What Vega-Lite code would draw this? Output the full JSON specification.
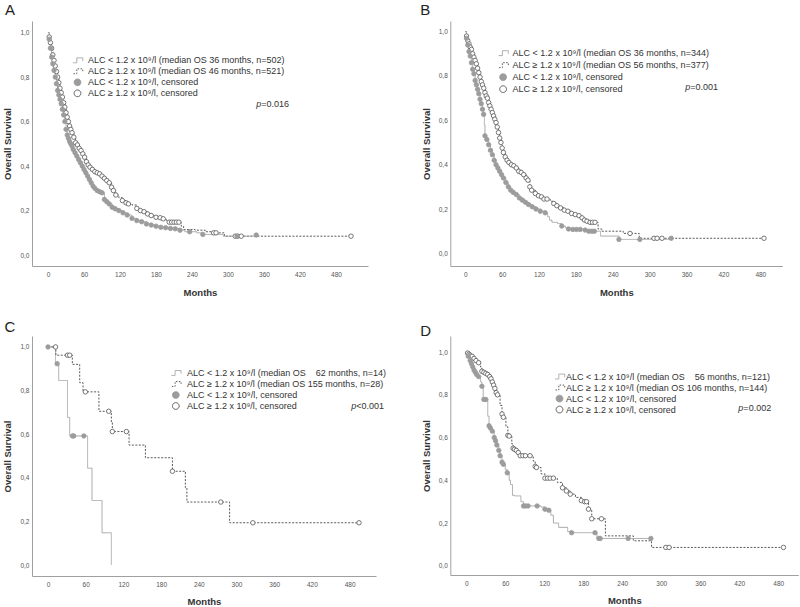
{
"$schema": "https://vega.github.io/schema/vega-lite/v6.json",
"padding": {"left": 2, "top": 3, "right": 2, "bottom": 0},
"background": "white",
"config": {
  "font": "Liberation Sans",
  "view": {"stroke": null},
  "axis": {"domainColor": "#a0a0a0", "domainWidth": 1, "ticks": false, "grid": false, "labelFontSize": 6.5, "labelColor": "#555555", "titleFontSize": 9.5, "titleFontWeight": "bold", "titleColor": "#333333"},
  "axisX": {"labelPadding": 5, "titlePadding": 10},
  "axisY": {"labelPadding": 3, "titlePadding": 7},
  "title": {"anchor": "start", "frame": "group", "fontSize": 15, "fontWeight": "normal", "color": "#222222", "baseline": "alphabetic"},
  "legend": {"orient": "none", "title": null, "padding": 0, "labelFontSize": 9, "labelColor": "#333333", "labelLimit": 0, "symbolSize": 196, "clipHeight": 11, "rowPadding": 0, "labelOffset": 6, "symbolStrokeWidth": 1}
},
"bounds": "flush",
"columns": 2,
"spacing": {"row": 70, "column": 74.3},
"resolve": {"scale": {"x": "independent", "y": "independent", "color": "independent", "strokeDash": "independent", "fill": "independent", "stroke": "independent"}, "legend": {"color": "independent"}},
"datasets": {
"A": [
{"g":2,"t":0,"s":1.0,"c":0},{"g":2,"t":2,"s":0.98,"c":1},{"g":2,"t":4,"s":0.955,"c":1},{"g":2,"t":6,"s":0.93,"c":1},{"g":2,"t":8,"s":0.9,"c":1},{"g":2,"t":10,"s":0.875,"c":1},{"g":2,"t":12,"s":0.85,"c":1},{"g":2,"t":14,"s":0.825,"c":1},{"g":2,"t":16,"s":0.8,"c":1},{"g":2,"t":18,"s":0.775,"c":1},{"g":2,"t":20,"s":0.75,"c":1},{"g":2,"t":22,"s":0.73,"c":1},{"g":2,"t":24,"s":0.71,"c":1},{"g":2,"t":26,"s":0.685,"c":1},{"g":2,"t":28,"s":0.665,"c":1},{"g":2,"t":30,"s":0.64,"c":1},{"g":2,"t":32,"s":0.62,"c":1},{"g":2,"t":34,"s":0.6,"c":1},{"g":2,"t":36,"s":0.58,"c":1},{"g":2,"t":38,"s":0.565,"c":1},{"g":2,"t":40,"s":0.55,"c":1},{"g":2,"t":43,"s":0.53,"c":1},{"g":2,"t":46,"s":0.505,"c":1},{"g":2,"t":49,"s":0.495,"c":1},{"g":2,"t":52,"s":0.48,"c":1},{"g":2,"t":55,"s":0.47,"c":1},{"g":2,"t":58,"s":0.455,"c":1},{"g":2,"t":61,"s":0.44,"c":1},{"g":2,"t":64,"s":0.42,"c":1},{"g":2,"t":67,"s":0.405,"c":1},{"g":2,"t":70,"s":0.395,"c":1},{"g":2,"t":74,"s":0.385,"c":1},{"g":2,"t":78,"s":0.375,"c":1},{"g":2,"t":82,"s":0.37,"c":1},{"g":2,"t":86,"s":0.365,"c":1},{"g":2,"t":90,"s":0.355,"c":1},{"g":2,"t":94,"s":0.345,"c":1},{"g":2,"t":98,"s":0.335,"c":1},{"g":2,"t":102,"s":0.325,"c":1},{"g":2,"t":106,"s":0.305,"c":1},{"g":2,"t":109,"s":0.29,"c":1},{"g":2,"t":113,"s":0.27,"c":1},{"g":2,"t":118,"s":0.258,"c":0},{"g":2,"t":124,"s":0.245,"c":1},{"g":2,"t":130,"s":0.235,"c":1},{"g":2,"t":134,"s":0.23,"c":1},{"g":2,"t":140,"s":0.225,"c":0},{"g":2,"t":148,"s":0.21,"c":1},{"g":2,"t":154,"s":0.2,"c":1},{"g":2,"t":160,"s":0.195,"c":1},{"g":2,"t":166,"s":0.185,"c":1},{"g":2,"t":172,"s":0.178,"c":1},{"g":2,"t":180,"s":0.17,"c":1},{"g":2,"t":187,"s":0.168,"c":1},{"g":2,"t":192,"s":0.163,"c":1},{"g":2,"t":197,"s":0.155,"c":0},{"g":2,"t":202,"s":0.148,"c":1},{"g":2,"t":206,"s":0.148,"c":1},{"g":2,"t":210,"s":0.148,"c":1},{"g":2,"t":214,"s":0.148,"c":1},{"g":2,"t":218,"s":0.148,"c":1},{"g":2,"t":222,"s":0.13,"c":0},{"g":2,"t":226,"s":0.115,"c":0},{"g":2,"t":245,"s":0.112,"c":0},{"g":2,"t":262,"s":0.105,"c":0},{"g":2,"t":276,"s":0.1,"c":1},{"g":2,"t":280,"s":0.1,"c":1},{"g":2,"t":294,"s":0.085,"c":0},{"g":2,"t":312,"s":0.085,"c":1},{"g":2,"t":316,"s":0.085,"c":1},{"g":2,"t":322,"s":0.085,"c":1},{"g":2,"t":505,"s":0.085,"c":1},
{"g":1,"t":0,"s":1.0,"c":0},{"g":1,"t":2,"s":0.97,"c":1},{"g":1,"t":4,"s":0.93,"c":1},{"g":1,"t":6,"s":0.89,"c":1},{"g":1,"t":8,"s":0.86,"c":1},{"g":1,"t":10,"s":0.83,"c":1},{"g":1,"t":12,"s":0.8,"c":1},{"g":1,"t":14,"s":0.77,"c":1},{"g":1,"t":16,"s":0.74,"c":1},{"g":1,"t":18,"s":0.72,"c":1},{"g":1,"t":20,"s":0.7,"c":1},{"g":1,"t":22,"s":0.68,"c":1},{"g":1,"t":24,"s":0.655,"c":1},{"g":1,"t":26,"s":0.63,"c":1},{"g":1,"t":28,"s":0.6,"c":1},{"g":1,"t":30,"s":0.565,"c":1},{"g":1,"t":32,"s":0.54,"c":1},{"g":1,"t":34,"s":0.525,"c":1},{"g":1,"t":36,"s":0.51,"c":1},{"g":1,"t":38,"s":0.5,"c":1},{"g":1,"t":40,"s":0.49,"c":1},{"g":1,"t":42,"s":0.475,"c":1},{"g":1,"t":45,"s":0.46,"c":1},{"g":1,"t":48,"s":0.445,"c":1},{"g":1,"t":51,"s":0.43,"c":1},{"g":1,"t":54,"s":0.415,"c":1},{"g":1,"t":57,"s":0.4,"c":1},{"g":1,"t":60,"s":0.385,"c":1},{"g":1,"t":63,"s":0.37,"c":1},{"g":1,"t":66,"s":0.355,"c":1},{"g":1,"t":69,"s":0.34,"c":1},{"g":1,"t":72,"s":0.325,"c":1},{"g":1,"t":75,"s":0.31,"c":1},{"g":1,"t":78,"s":0.3,"c":1},{"g":1,"t":82,"s":0.29,"c":1},{"g":1,"t":86,"s":0.285,"c":1},{"g":1,"t":90,"s":0.28,"c":1},{"g":1,"t":94,"s":0.25,"c":1},{"g":1,"t":98,"s":0.24,"c":1},{"g":1,"t":102,"s":0.23,"c":1},{"g":1,"t":107,"s":0.215,"c":1},{"g":1,"t":112,"s":0.208,"c":1},{"g":1,"t":118,"s":0.2,"c":1},{"g":1,"t":125,"s":0.19,"c":1},{"g":1,"t":132,"s":0.18,"c":1},{"g":1,"t":140,"s":0.165,"c":1},{"g":1,"t":148,"s":0.155,"c":1},{"g":1,"t":156,"s":0.15,"c":1},{"g":1,"t":164,"s":0.14,"c":1},{"g":1,"t":172,"s":0.135,"c":1},{"g":1,"t":180,"s":0.13,"c":1},{"g":1,"t":188,"s":0.125,"c":1},{"g":1,"t":196,"s":0.123,"c":1},{"g":1,"t":204,"s":0.12,"c":1},{"g":1,"t":212,"s":0.118,"c":1},{"g":1,"t":220,"s":0.112,"c":1},{"g":1,"t":228,"s":0.105,"c":0},{"g":1,"t":236,"s":0.105,"c":1},{"g":1,"t":248,"s":0.1,"c":0},{"g":1,"t":258,"s":0.093,"c":1},{"g":1,"t":292,"s":0.085,"c":0},{"g":1,"t":315,"s":0.085,"c":1},{"g":1,"t":347,"s":0.09,"c":1}
],
"B": [
{"g":2,"t":0,"s":1.0,"c":0},{"g":2,"t":2,"s":0.98,"c":1},{"g":2,"t":4,"s":0.96,"c":1},{"g":2,"t":6,"s":0.945,"c":1},{"g":2,"t":8,"s":0.93,"c":1},{"g":2,"t":10,"s":0.92,"c":1},{"g":2,"t":12,"s":0.9,"c":1},{"g":2,"t":14,"s":0.885,"c":1},{"g":2,"t":16,"s":0.87,"c":1},{"g":2,"t":18,"s":0.855,"c":1},{"g":2,"t":20,"s":0.835,"c":1},{"g":2,"t":22,"s":0.815,"c":1},{"g":2,"t":24,"s":0.795,"c":1},{"g":2,"t":26,"s":0.775,"c":1},{"g":2,"t":28,"s":0.76,"c":1},{"g":2,"t":30,"s":0.745,"c":1},{"g":2,"t":32,"s":0.725,"c":1},{"g":2,"t":34,"s":0.71,"c":1},{"g":2,"t":36,"s":0.7,"c":1},{"g":2,"t":38,"s":0.68,"c":1},{"g":2,"t":40,"s":0.665,"c":1},{"g":2,"t":42,"s":0.65,"c":1},{"g":2,"t":44,"s":0.635,"c":1},{"g":2,"t":46,"s":0.62,"c":1},{"g":2,"t":48,"s":0.605,"c":1},{"g":2,"t":50,"s":0.59,"c":1},{"g":2,"t":52,"s":0.57,"c":1},{"g":2,"t":54,"s":0.545,"c":1},{"g":2,"t":56,"s":0.52,"c":1},{"g":2,"t":58,"s":0.5,"c":1},{"g":2,"t":60,"s":0.475,"c":1},{"g":2,"t":62,"s":0.455,"c":1},{"g":2,"t":65,"s":0.435,"c":1},{"g":2,"t":68,"s":0.42,"c":1},{"g":2,"t":71,"s":0.41,"c":1},{"g":2,"t":75,"s":0.4,"c":1},{"g":2,"t":79,"s":0.395,"c":1},{"g":2,"t":83,"s":0.385,"c":1},{"g":2,"t":87,"s":0.37,"c":1},{"g":2,"t":91,"s":0.365,"c":1},{"g":2,"t":95,"s":0.355,"c":1},{"g":2,"t":99,"s":0.34,"c":1},{"g":2,"t":102,"s":0.33,"c":1},{"g":2,"t":105,"s":0.3,"c":1},{"g":2,"t":108,"s":0.285,"c":1},{"g":2,"t":114,"s":0.27,"c":1},{"g":2,"t":119,"s":0.26,"c":1},{"g":2,"t":124,"s":0.255,"c":1},{"g":2,"t":128,"s":0.245,"c":1},{"g":2,"t":133,"s":0.245,"c":1},{"g":2,"t":138,"s":0.235,"c":0},{"g":2,"t":144,"s":0.225,"c":1},{"g":2,"t":149,"s":0.215,"c":1},{"g":2,"t":155,"s":0.205,"c":1},{"g":2,"t":161,"s":0.195,"c":1},{"g":2,"t":167,"s":0.19,"c":1},{"g":2,"t":173,"s":0.18,"c":1},{"g":2,"t":179,"s":0.175,"c":1},{"g":2,"t":185,"s":0.17,"c":1},{"g":2,"t":190,"s":0.16,"c":1},{"g":2,"t":194,"s":0.15,"c":1},{"g":2,"t":198,"s":0.145,"c":1},{"g":2,"t":203,"s":0.14,"c":1},{"g":2,"t":207,"s":0.14,"c":1},{"g":2,"t":211,"s":0.14,"c":1},{"g":2,"t":216,"s":0.11,"c":0},{"g":2,"t":222,"s":0.1,"c":0},{"g":2,"t":257,"s":0.09,"c":0},{"g":2,"t":268,"s":0.09,"c":1},{"g":2,"t":283,"s":0.068,"c":0},{"g":2,"t":307,"s":0.068,"c":1},{"g":2,"t":312,"s":0.068,"c":1},{"g":2,"t":320,"s":0.068,"c":1},{"g":2,"t":486,"s":0.068,"c":1},
{"g":1,"t":0,"s":1.0,"c":0},{"g":1,"t":2,"s":0.97,"c":1},{"g":1,"t":4,"s":0.94,"c":1},{"g":1,"t":6,"s":0.91,"c":1},{"g":1,"t":8,"s":0.89,"c":1},{"g":1,"t":10,"s":0.86,"c":1},{"g":1,"t":12,"s":0.83,"c":1},{"g":1,"t":14,"s":0.81,"c":1},{"g":1,"t":16,"s":0.78,"c":1},{"g":1,"t":18,"s":0.76,"c":1},{"g":1,"t":20,"s":0.74,"c":1},{"g":1,"t":22,"s":0.72,"c":1},{"g":1,"t":24,"s":0.695,"c":1},{"g":1,"t":26,"s":0.675,"c":1},{"g":1,"t":28,"s":0.65,"c":1},{"g":1,"t":29.8,"s":0.627,"c":1},{"g":1,"t":31,"s":0.58,"c":0},{"g":1,"t":32,"s":0.53,"c":1},{"g":1,"t":35,"s":0.514,"c":1},{"g":1,"t":38,"s":0.49,"c":1},{"g":1,"t":41,"s":0.465,"c":1},{"g":1,"t":44,"s":0.445,"c":1},{"g":1,"t":47,"s":0.42,"c":1},{"g":1,"t":50,"s":0.4,"c":1},{"g":1,"t":53,"s":0.385,"c":1},{"g":1,"t":56,"s":0.37,"c":1},{"g":1,"t":59,"s":0.355,"c":1},{"g":1,"t":62,"s":0.34,"c":1},{"g":1,"t":66,"s":0.32,"c":1},{"g":1,"t":70,"s":0.3,"c":1},{"g":1,"t":74,"s":0.285,"c":1},{"g":1,"t":78,"s":0.275,"c":1},{"g":1,"t":83,"s":0.265,"c":1},{"g":1,"t":88,"s":0.25,"c":1},{"g":1,"t":93,"s":0.24,"c":1},{"g":1,"t":98,"s":0.23,"c":1},{"g":1,"t":103,"s":0.22,"c":1},{"g":1,"t":109,"s":0.21,"c":1},{"g":1,"t":115,"s":0.2,"c":1},{"g":1,"t":122,"s":0.19,"c":1},{"g":1,"t":130,"s":0.183,"c":1},{"g":1,"t":134,"s":0.165,"c":0},{"g":1,"t":137,"s":0.15,"c":0},{"g":1,"t":141,"s":0.14,"c":0},{"g":1,"t":150,"s":0.135,"c":0},{"g":1,"t":157,"s":0.123,"c":1},{"g":1,"t":163,"s":0.115,"c":0},{"g":1,"t":168,"s":0.11,"c":1},{"g":1,"t":175,"s":0.108,"c":1},{"g":1,"t":181,"s":0.108,"c":1},{"g":1,"t":187,"s":0.108,"c":1},{"g":1,"t":195,"s":0.105,"c":1},{"g":1,"t":201,"s":0.1,"c":1},{"g":1,"t":206,"s":0.1,"c":1},{"g":1,"t":210,"s":0.1,"c":1},{"g":1,"t":220,"s":0.078,"c":0},{"g":1,"t":250,"s":0.063,"c":1},{"g":1,"t":284,"s":0.063,"c":1},{"g":1,"t":335,"s":0.068,"c":1}
],
"C": [
{"g":1,"t":0,"s":1.0,"c":1},{"g":1,"t":12,"s":0.923,"c":0},{"g":1,"t":14.5,"s":0.923,"c":1},{"g":1,"t":17,"s":0.846,"c":0},{"g":1,"t":31,"s":0.677,"c":0},{"g":1,"t":34.5,"s":0.592,"c":0},{"g":1,"t":39,"s":0.592,"c":1},{"g":1,"t":41,"s":0.592,"c":1},{"g":1,"t":57,"s":0.592,"c":1},{"g":1,"t":63,"s":0.444,"c":0},{"g":1,"t":70,"s":0.296,"c":0},{"g":1,"t":86,"s":0.148,"c":0},{"g":1,"t":100.8,"s":0.0,"c":0},
{"g":2,"t":0,"s":1.0,"c":0},{"g":2,"t":12,"s":1.0,"c":1},{"g":2,"t":12.5,"s":0.962,"c":0},{"g":2,"t":31,"s":0.962,"c":1},{"g":2,"t":34.5,"s":0.962,"c":1},{"g":2,"t":38.7,"s":0.92,"c":0},{"g":2,"t":50.4,"s":0.836,"c":0},{"g":2,"t":55.7,"s":0.794,"c":0},{"g":2,"t":59.4,"s":0.794,"c":1},{"g":2,"t":81,"s":0.705,"c":0},{"g":2,"t":96.6,"s":0.705,"c":1},{"g":2,"t":100.8,"s":0.656,"c":0},{"g":2,"t":102.4,"s":0.612,"c":1},{"g":2,"t":124.7,"s":0.612,"c":1},{"g":2,"t":129,"s":0.55,"c":0},{"g":2,"t":155,"s":0.492,"c":0},{"g":2,"t":198,"s":0.43,"c":1},{"g":2,"t":218.6,"s":0.355,"c":0},{"g":2,"t":221,"s":0.289,"c":0},{"g":2,"t":275,"s":0.289,"c":1},{"g":2,"t":289,"s":0.194,"c":0},{"g":2,"t":326,"s":0.194,"c":1},{"g":2,"t":495,"s":0.194,"c":1}
],
"D": [
{"g":2,"t":0,"s":1.0,"c":0},{"g":2,"t":2,"s":0.995,"c":1},{"g":2,"t":4,"s":0.99,"c":1},{"g":2,"t":6,"s":0.985,"c":1},{"g":2,"t":9,"s":0.98,"c":1},{"g":2,"t":12,"s":0.97,"c":1},{"g":2,"t":15,"s":0.96,"c":1},{"g":2,"t":19,"s":0.95,"c":1},{"g":2,"t":22,"s":0.93,"c":0},{"g":2,"t":24,"s":0.91,"c":1},{"g":2,"t":27,"s":0.905,"c":1},{"g":2,"t":30,"s":0.9,"c":1},{"g":2,"t":33,"s":0.895,"c":1},{"g":2,"t":36,"s":0.885,"c":1},{"g":2,"t":38,"s":0.875,"c":1},{"g":2,"t":40,"s":0.86,"c":1},{"g":2,"t":42,"s":0.845,"c":1},{"g":2,"t":44,"s":0.83,"c":1},{"g":2,"t":46,"s":0.81,"c":1},{"g":2,"t":48,"s":0.8,"c":1},{"g":2,"t":52,"s":0.75,"c":0},{"g":2,"t":55,"s":0.71,"c":1},{"g":2,"t":57,"s":0.695,"c":1},{"g":2,"t":61,"s":0.65,"c":0},{"g":2,"t":64,"s":0.61,"c":1},{"g":2,"t":66,"s":0.607,"c":1},{"g":2,"t":70,"s":0.57,"c":0},{"g":2,"t":72,"s":0.55,"c":1},{"g":2,"t":74,"s":0.545,"c":1},{"g":2,"t":77,"s":0.54,"c":1},{"g":2,"t":80,"s":0.53,"c":1},{"g":2,"t":83,"s":0.515,"c":1},{"g":2,"t":87,"s":0.515,"c":1},{"g":2,"t":91,"s":0.515,"c":1},{"g":2,"t":98,"s":0.515,"c":1},{"g":2,"t":103,"s":0.49,"c":0},{"g":2,"t":106,"s":0.465,"c":1},{"g":2,"t":108,"s":0.46,"c":1},{"g":2,"t":115,"s":0.43,"c":0},{"g":2,"t":121,"s":0.41,"c":1},{"g":2,"t":125,"s":0.41,"c":1},{"g":2,"t":129,"s":0.41,"c":1},{"g":2,"t":134,"s":0.41,"c":1},{"g":2,"t":140,"s":0.39,"c":0},{"g":2,"t":148,"s":0.365,"c":1},{"g":2,"t":154,"s":0.35,"c":1},{"g":2,"t":160,"s":0.335,"c":1},{"g":2,"t":168,"s":0.32,"c":0},{"g":2,"t":177,"s":0.305,"c":1},{"g":2,"t":182,"s":0.3,"c":1},{"g":2,"t":185,"s":0.3,"c":1},{"g":2,"t":188,"s":0.265,"c":1},{"g":2,"t":193,"s":0.22,"c":1},{"g":2,"t":208,"s":0.22,"c":1},{"g":2,"t":214,"s":0.14,"c":0},{"g":2,"t":257,"s":0.117,"c":0},{"g":2,"t":285,"s":0.086,"c":0},{"g":2,"t":307,"s":0.086,"c":1},{"g":2,"t":312,"s":0.086,"c":1},{"g":2,"t":488,"s":0.086,"c":1},
{"g":1,"t":0,"s":1.0,"c":0},{"g":1,"t":3,"s":0.98,"c":1},{"g":1,"t":6,"s":0.96,"c":1},{"g":1,"t":8,"s":0.945,"c":1},{"g":1,"t":10,"s":0.93,"c":1},{"g":1,"t":12,"s":0.915,"c":1},{"g":1,"t":14,"s":0.905,"c":1},{"g":1,"t":16,"s":0.895,"c":1},{"g":1,"t":19,"s":0.885,"c":1},{"g":1,"t":22,"s":0.86,"c":0},{"g":1,"t":24,"s":0.84,"c":1},{"g":1,"t":26,"s":0.78,"c":0},{"g":1,"t":27,"s":0.778,"c":1},{"g":1,"t":30,"s":0.778,"c":1},{"g":1,"t":33,"s":0.7,"c":0},{"g":1,"t":35,"s":0.655,"c":1},{"g":1,"t":37,"s":0.645,"c":1},{"g":1,"t":40,"s":0.63,"c":1},{"g":1,"t":43,"s":0.6,"c":1},{"g":1,"t":45,"s":0.585,"c":1},{"g":1,"t":47,"s":0.565,"c":1},{"g":1,"t":50,"s":0.54,"c":1},{"g":1,"t":52,"s":0.515,"c":1},{"g":1,"t":55,"s":0.485,"c":1},{"g":1,"t":57,"s":0.475,"c":1},{"g":1,"t":60,"s":0.45,"c":0},{"g":1,"t":63,"s":0.435,"c":1},{"g":1,"t":66,"s":0.4,"c":0},{"g":1,"t":68,"s":0.38,"c":0},{"g":1,"t":71,"s":0.33,"c":0},{"g":1,"t":74,"s":0.327,"c":0},{"g":1,"t":84,"s":0.3,"c":0},{"g":1,"t":88,"s":0.28,"c":1},{"g":1,"t":91,"s":0.28,"c":1},{"g":1,"t":95,"s":0.28,"c":1},{"g":1,"t":109,"s":0.28,"c":1},{"g":1,"t":115,"s":0.275,"c":0},{"g":1,"t":121,"s":0.265,"c":1},{"g":1,"t":127,"s":0.26,"c":1},{"g":1,"t":130,"s":0.237,"c":0},{"g":1,"t":134,"s":0.2,"c":0},{"g":1,"t":142,"s":0.18,"c":0},{"g":1,"t":156,"s":0.16,"c":0},{"g":1,"t":162,"s":0.155,"c":1},{"g":1,"t":198,"s":0.155,"c":1},{"g":1,"t":201,"s":0.128,"c":0},{"g":1,"t":204,"s":0.128,"c":1},{"g":1,"t":206,"s":0.128,"c":1},{"g":1,"t":249,"s":0.128,"c":1},{"g":1,"t":284,"s":0.128,"c":1}
]
},
"concat": [
{
 "width": 336, "height": 245,
 "title": {"text": "A", "dx": -27, "offset": 3},
 "layer": [
  {"data": {"name": "A"}, "mark": {"type": "line", "interpolate": "step-after", "strokeWidth": 1},
   "encoding": {
    "x": {"field": "t", "type": "quantitative", "title": "Months", "scale": {"domain": [-26.7, 533.3], "nice": false, "zero": false}, "axis": {"values": [0,60,120,180,240,300,360,420,480]}},
    "y": {"field": "s", "type": "quantitative", "title": "Overall Survival", "scale": {"domain": [-0.049, 1.052], "nice": false, "zero": false}, "axis": {"values": [0,0.2,0.4,0.6,0.8,1], "labelExpr": "replace(format(datum.value, '.1f'), '.', ',')"}},
    "color": {"field": "g", "type": "nominal", "scale": {"domain": [1,2,3,4], "range": ["#a8a8a8","#5a5a5a","#9c9c9c","#555555"]},
     "legend": {"legendX": 41, "legendY": 33.8, "labelOffset": 6,
      "labelExpr": "['','ALC < 1.2 x 10⁹/l (median OS 36 months, n=502)','ALC ≥ 1.2 x 10⁹/l (median OS 46 months, n=521)','ALC < 1.2 x 10⁹/l, censored','ALC ≥ 1.2 x 10⁹/l, censored'][datum.value]",
      "encode": {"symbols": {"update": {
       "shape": {"signal": "datum.value < 3 ? 'M-1,0.35H-0.1V-0.35H0.75V0.1' : 'circle'"},
       "size": {"signal": "datum.value < 3 ? 196 : 45"},
       "fill": {"signal": "datum.value == 3 ? '#9c9c9c' : datum.value == 4 ? '#ffffff' : 'transparent'"},
       "stroke": {"signal": "datum.value == 1 ? '#a8a8a8' : datum.value == 3 ? '#9c9c9c' : '#555555'"},
       "strokeDash": {"signal": "datum.value == 2 ? [1.5,1.5] : [1,0]"},
       "strokeWidth": {"value": 1}, "opacity": {"value": 1}}}}}},
    "strokeDash": {"field": "g", "type": "nominal", "scale": {"domain": [1,2], "range": [[1,0],[2,1.5]]}, "legend": null}
   }},
  {"data": {"name": "A"}, "transform": [{"filter": "datum.c == 1"}],
   "mark": {"type": "point", "filled": true, "size": 20, "strokeWidth": 0.8, "opacity": 1},
   "encoding": {
    "x": {"field": "t", "type": "quantitative"}, "y": {"field": "s", "type": "quantitative"},
    "fill": {"field": "g", "type": "nominal", "scale": {"domain": [1,2], "range": ["#9c9c9c","#ffffff"]}, "legend": null},
    "stroke": {"field": "g", "type": "nominal", "scale": {"domain": [1,2], "range": ["#9c9c9c","#555555"]}, "legend": null}
   }},
  {"data": {"values": [{}]}, "mark": {"type": "text", "text": "p", "fontStyle": "italic", "fontSize": 9, "align": "left", "baseline": "alphabetic", "color": "#333333"},
   "encoding": {"x": {"datum": 347}, "y": {"datum": 0.667}}},
  {"data": {"values": [{}]}, "mark": {"type": "text", "text": "=0.016", "fontSize": 9, "align": "left", "baseline": "alphabetic", "dx": 5, "color": "#333333"},
   "encoding": {"x": {"datum": 347}, "y": {"datum": 0.667}}}
 ]
},
{
 "width": 332, "height": 245,
 "title": {"text": "B", "dx": -30, "offset": 3},
 "layer": [
  {"data": {"name": "B"}, "mark": {"type": "line", "interpolate": "step-after", "strokeWidth": 1},
   "encoding": {
    "x": {"field": "t", "type": "quantitative", "title": "Months", "scale": {"domain": [-24.4, 515.8], "nice": false, "zero": false}, "axis": {"values": [0,60,120,180,240,300,360,420,480]}},
    "y": {"field": "s", "type": "quantitative", "title": "Overall Survival", "scale": {"domain": [-0.057, 1.048], "nice": false, "zero": false}, "axis": {"values": [0,0.2,0.4,0.6,0.8,1], "labelExpr": "replace(format(datum.value, '.1f'), '.', ',')"}},
    "color": {"field": "g", "type": "nominal", "scale": {"domain": [1,2,3,4], "range": ["#a8a8a8","#5a5a5a","#9c9c9c","#555555"]},
     "legend": {"legendX": 48.3, "legendY": 26.3, "labelOffset": 5, "clipHeight": 11.7,
      "labelExpr": "['','ALC < 1.2 x 10⁹/l (median OS 36 months, n=344)','ALC ≥ 1.2 x 10⁹/l (median OS 56 months, n=377)','ALC < 1.2 x 10⁹/l, censored','ALC ≥ 1.2 x 10⁹/l, censored'][datum.value]",
      "encode": {"symbols": {"update": {
       "shape": {"signal": "datum.value < 3 ? 'M-1,0.35H-0.1V-0.35H0.75V0.1' : 'circle'"},
       "size": {"signal": "datum.value < 3 ? 196 : 45"},
       "fill": {"signal": "datum.value == 3 ? '#9c9c9c' : datum.value == 4 ? '#ffffff' : 'transparent'"},
       "stroke": {"signal": "datum.value == 1 ? '#a8a8a8' : datum.value == 3 ? '#9c9c9c' : '#555555'"},
       "strokeDash": {"signal": "datum.value == 2 ? [1.5,1.5] : [1,0]"},
       "strokeWidth": {"value": 1}, "opacity": {"value": 1}}}}}},
    "strokeDash": {"field": "g", "type": "nominal", "scale": {"domain": [1,2], "range": [[1,0],[2,1.5]]}, "legend": null}
   }},
  {"data": {"name": "B"}, "transform": [{"filter": "datum.c == 1"}],
   "mark": {"type": "point", "filled": true, "size": 20, "strokeWidth": 0.8, "opacity": 1},
   "encoding": {
    "x": {"field": "t", "type": "quantitative"}, "y": {"field": "s", "type": "quantitative"},
    "fill": {"field": "g", "type": "nominal", "scale": {"domain": [1,2], "range": ["#9c9c9c","#ffffff"]}, "legend": null},
    "stroke": {"field": "g", "type": "nominal", "scale": {"domain": [1,2], "range": ["#9c9c9c","#555555"]}, "legend": null}
   }},
  {"data": {"values": [{}]}, "mark": {"type": "text", "text": "p", "fontStyle": "italic", "fontSize": 9, "align": "left", "baseline": "alphabetic", "color": "#333333"},
   "encoding": {"x": {"datum": 358}, "y": {"datum": 0.737}}},
  {"data": {"values": [{}]}, "mark": {"type": "text", "text": "=0.001", "fontSize": 9, "align": "left", "baseline": "alphabetic", "dx": 5, "color": "#333333"},
   "encoding": {"x": {"datum": 358}, "y": {"datum": 0.737}}}
 ]
},
{
 "width": 344, "height": 240,
 "title": {"text": "C", "dx": -27.4, "offset": 1},
 "layer": [
  {"data": {"name": "C"}, "mark": {"type": "line", "interpolate": "step-after", "strokeWidth": 1},
   "encoding": {
    "x": {"field": "t", "type": "quantitative", "title": "Months", "scale": {"domain": [-25.5, 522], "nice": false, "zero": false}, "axis": {"values": [0,60,120,180,240,300,360,420,480], "titlePadding": 9}},
    "y": {"field": "s", "type": "quantitative", "title": "Overall Survival", "scale": {"domain": [-0.05, 1.05], "nice": false, "zero": false}, "axis": {"values": [0,0.2,0.4,0.6,0.8,1], "labelExpr": "replace(format(datum.value, '.1f'), '.', ',')"}},
    "color": {"field": "g", "type": "nominal", "scale": {"domain": [1,2,3,4], "range": ["#a8a8a8","#5a5a5a","#9c9c9c","#555555"]},
     "legend": {"legendX": 139.3, "legendY": 31.5, "labelOffset": 6.7,
      "labelExpr": "['','ALC < 1.2 x 10⁹/l (median OS \u2007 62 months, n=14)','ALC ≥ 1.2 x 10⁹/l (median OS 155 months, n=28)','ALC < 1.2 x 10⁹/l, censored','ALC ≥ 1.2 x 10⁹/l, censored'][datum.value]",
      "encode": {"symbols": {"update": {
       "shape": {"signal": "datum.value < 3 ? 'M-1,0.35H-0.1V-0.35H0.75V0.1' : 'circle'"},
       "size": {"signal": "datum.value < 3 ? 196 : 45"},
       "fill": {"signal": "datum.value == 3 ? '#9c9c9c' : datum.value == 4 ? '#ffffff' : 'transparent'"},
       "stroke": {"signal": "datum.value == 1 ? '#a8a8a8' : datum.value == 3 ? '#9c9c9c' : '#555555'"},
       "strokeDash": {"signal": "datum.value == 2 ? [1.5,1.5] : [1,0]"},
       "strokeWidth": {"value": 1}, "opacity": {"value": 1}}}}}},
    "strokeDash": {"field": "g", "type": "nominal", "scale": {"domain": [1,2], "range": [[1,0],[2,1.5]]}, "legend": null}
   }},
  {"data": {"name": "C"}, "transform": [{"filter": "datum.c == 1"}],
   "mark": {"type": "point", "filled": true, "size": 20, "strokeWidth": 0.8, "opacity": 1},
   "encoding": {
    "x": {"field": "t", "type": "quantitative"}, "y": {"field": "s", "type": "quantitative"},
    "fill": {"field": "g", "type": "nominal", "scale": {"domain": [1,2], "range": ["#9c9c9c","#ffffff"]}, "legend": null},
    "stroke": {"field": "g", "type": "nominal", "scale": {"domain": [1,2], "range": ["#9c9c9c","#555555"]}, "legend": null}
   }},
  {"data": {"values": [{}]}, "mark": {"type": "text", "text": "p", "fontStyle": "italic", "fontSize": 9, "align": "left", "baseline": "alphabetic", "color": "#333333"},
   "encoding": {"x": {"datum": 482.7}, "y": {"datum": 0.717}}},
  {"data": {"values": [{}]}, "mark": {"type": "text", "text": "<0.001", "fontSize": 9, "align": "left", "baseline": "alphabetic", "dx": 5, "color": "#333333"},
   "encoding": {"x": {"datum": 482.7}, "y": {"datum": 0.717}}}
 ]
},
{
 "width": 348, "height": 239,
 "title": {"text": "D", "dx": -30, "offset": -3},
 "layer": [
  {"data": {"name": "D"}, "mark": {"type": "line", "interpolate": "step-after", "strokeWidth": 1},
   "encoding": {
    "x": {"field": "t", "type": "quantitative", "title": "Months", "scale": {"domain": [-24.6, 510.8], "nice": false, "zero": false}, "axis": {"values": [0,60,120,180,240,300,360,420,480], "titlePadding": 9}},
    "y": {"field": "s", "type": "quantitative", "title": "Overall Survival", "scale": {"domain": [-0.043, 1.075], "nice": false, "zero": false}, "axis": {"values": [0,0.2,0.4,0.6,0.8,1], "labelExpr": "replace(format(datum.value, '.1f'), '.', ',')"}},
    "color": {"field": "g", "type": "nominal", "scale": {"domain": [1,2,3,4], "range": ["#a8a8a8","#5a5a5a","#9c9c9c","#555555"]},
     "legend": {"legendX": 104.7, "legendY": 35.4, "labelOffset": 2, "clipHeight": 10.3,
      "labelExpr": "['','ALC < 1.2 x 10⁹/l (median OS \u2007 56 months, n=121)','ALC ≥ 1.2 x 10⁹/l (median OS 106 months, n=144)','ALC < 1.2 x 10⁹/l, censored','ALC ≥ 1.2 x 10⁹/l, censored'][datum.value]",
      "encode": {"symbols": {"update": {
       "shape": {"signal": "datum.value < 3 ? 'M-1,0.35H-0.1V-0.35H0.75V0.1' : 'circle'"},
       "size": {"signal": "datum.value < 3 ? 196 : 45"},
       "fill": {"signal": "datum.value == 3 ? '#9c9c9c' : datum.value == 4 ? '#ffffff' : 'transparent'"},
       "stroke": {"signal": "datum.value == 1 ? '#a8a8a8' : datum.value == 3 ? '#9c9c9c' : '#555555'"},
       "strokeDash": {"signal": "datum.value == 2 ? [1.5,1.5] : [1,0]"},
       "strokeWidth": {"value": 1}, "opacity": {"value": 1}}}}}},
    "strokeDash": {"field": "g", "type": "nominal", "scale": {"domain": [1,2], "range": [[1,0],[2,1.5]]}, "legend": null}
   }},
  {"data": {"name": "D"}, "transform": [{"filter": "datum.c == 1"}],
   "mark": {"type": "point", "filled": true, "size": 20, "strokeWidth": 0.8, "opacity": 1},
   "encoding": {
    "x": {"field": "t", "type": "quantitative"}, "y": {"field": "s", "type": "quantitative"},
    "fill": {"field": "g", "type": "nominal", "scale": {"domain": [1,2], "range": ["#9c9c9c","#ffffff"]}, "legend": null},
    "stroke": {"field": "g", "type": "nominal", "scale": {"domain": [1,2], "range": ["#9c9c9c","#555555"]}, "legend": null}
   }},
  {"data": {"values": [{}]}, "mark": {"type": "text", "text": "p", "fontStyle": "italic", "fontSize": 9, "align": "left", "baseline": "alphabetic", "color": "#333333"},
   "encoding": {"x": {"datum": 418.6}, "y": {"datum": 0.724}}},
  {"data": {"values": [{}]}, "mark": {"type": "text", "text": "=0.002", "fontSize": 9, "align": "left", "baseline": "alphabetic", "dx": 5, "color": "#333333"},
   "encoding": {"x": {"datum": 418.6}, "y": {"datum": 0.724}}}
 ]
}
]
}
